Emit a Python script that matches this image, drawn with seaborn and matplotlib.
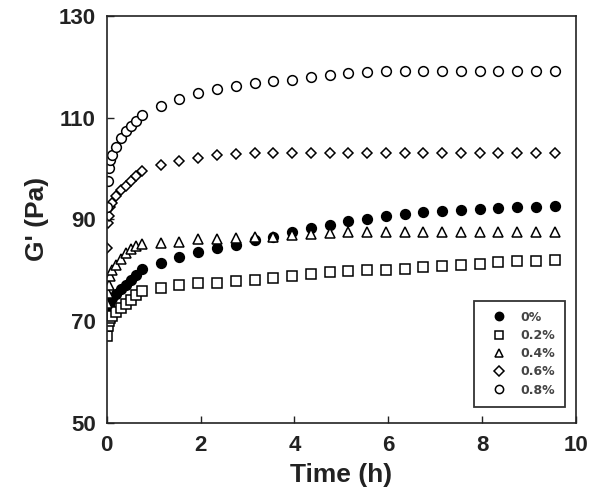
import numpy as np
import pandas as pd
import matplotlib
matplotlib.use("Agg")
import matplotlib.pyplot as plt
import seaborn as sns

# ---- data ----
time_early = [0, 0.02, 0.04, 0.07, 0.12, 0.2, 0.3, 0.42, 0.52, 0.63, 0.75]
time_late = [1.15, 1.55, 1.95, 2.35, 2.75, 3.15, 3.55, 3.95, 4.35, 4.75, 5.15,
             5.55, 5.95, 6.35, 6.75, 7.15, 7.55, 7.95, 8.35, 8.75, 9.15, 9.55]
time_h = time_early + time_late

g_0 = [71.5, 72.5, 73.2, 74.0, 74.6, 75.3, 76.3, 77.2, 78.1, 79.1, 80.2,
       81.4, 82.7, 83.5, 84.4, 85.0, 86.0, 86.6, 87.6, 88.3, 89.0, 89.6,
       90.0, 90.6, 91.0, 91.4, 91.6, 91.8, 92.0, 92.2, 92.4, 92.5, 92.7]
g_02 = [67.0, 69.0, 70.0, 70.6, 71.0, 71.8, 72.6, 73.4, 74.2, 75.2, 76.0,
        76.6, 77.2, 77.5, 77.6, 77.8, 78.0, 78.4, 78.9, 79.3, 79.6, 79.8,
        80.0, 80.1, 80.3, 80.6, 80.8, 81.0, 81.3, 81.6, 81.8, 81.9, 82.0]
g_04 = [73.6, 75.5, 77.2, 78.8, 80.1, 81.1, 82.2, 83.4, 84.2, 84.8, 85.2,
        85.4, 85.6, 86.1, 86.2, 86.4, 86.5, 86.6, 87.0, 87.2, 87.4, 87.5,
        87.5, 87.5, 87.5, 87.5, 87.5, 87.5, 87.5, 87.5, 87.5, 87.5, 87.5]
g_06 = [84.4, 89.3, 90.6, 92.5, 93.3, 94.6, 95.8, 96.5, 97.6, 98.6, 99.5,
        100.6, 101.4, 102.0, 102.6, 102.9, 103.1, 103.1, 103.1, 103.1, 103.1, 103.1,
        103.1, 103.1, 103.1, 103.1, 103.1, 103.1, 103.1, 103.1, 103.1, 103.1, 103.1]
g_08 = [92.5, 97.6, 100.1, 101.7, 102.7, 104.3, 106.0, 107.3, 108.4, 109.4, 110.5,
        112.3, 113.7, 114.9, 115.7, 116.2, 116.8, 117.2, 117.5, 118.0, 118.4, 118.7,
        119.0, 119.2, 119.2, 119.2, 119.2, 119.2, 119.2, 119.2, 119.2, 119.2, 119.2]

labels = ["0%", "0.2%", "0.4%", "0.6%", "0.8%"]
series = [g_0, g_02, g_04, g_06, g_08]
x_ticks = [0, 2, 4, 6, 8, 10]
y_ticks = [50, 70, 90, 110, 130]

# ---- styling ----
markers = ["o", "s", "^", "D", "o"]
faces = ["black", "white", "white", "white", "white"]
msizes = [7, 6.5, 7, 5.5, 7]
ink = "#222222"

sns.set_theme(style="ticks")
plt.rcParams["font.family"] = ["Liberation Sans", "DejaVu Sans"]

fig = plt.figure(figsize=(5.9, 4.97), dpi=100)
ax = fig.add_axes([0.181, 0.149, 0.795, 0.819])

for lab, vals, m, fc, ms in zip(labels, series, markers, faces, msizes):
    df = pd.DataFrame({"t": time_h, "g": vals})
    sns.lineplot(data=df, x="t", y="g", ax=ax, estimator=None, sort=False,
                 linestyle="", marker=m, markersize=ms, markerfacecolor=fc,
                 markeredgecolor="black", markeredgewidth=1.1, color="black",
                 label=lab)

ax.set_xlim(0, 10)
ax.set_ylim(50, 130)
ax.set_xticks(x_ticks)
ax.set_yticks(y_ticks)
ax.tick_params(axis="both", direction="in", length=5, width=1, labelsize=16,
               colors=ink, top=False, right=False)
ax.tick_params(axis="x", pad=9)
ax.tick_params(axis="y", pad=8)
for t in ax.get_xticklabels() + ax.get_yticklabels():
    t.set_fontweight("bold")
for sp in ax.spines.values():
    sp.set_linewidth(1.2)
    sp.set_color(ink)
    sp.set_visible(True)

ax.set_xlabel("Time (h)", fontsize=19, fontweight="bold", color=ink, labelpad=5)
ax.set_ylabel("G' (Pa)", fontsize=19, fontweight="bold", color=ink, labelpad=7)

leg = ax.legend(loc="lower right", bbox_to_anchor=(0.977, 0.04), frameon=True,
                fancybox=False, edgecolor="black",
                prop={"family": "DejaVu Sans", "weight": "bold", "size": 9},
                handlelength=2.4, handletextpad=0.5, labelspacing=0.42,
                borderpad=0.8, borderaxespad=0.0, markerscale=0.85)
leg.get_frame().set_linewidth(1.3)
for t in leg.get_texts():
    t.set_color("#444444")

fig.savefig("out.png", dpi=100)
